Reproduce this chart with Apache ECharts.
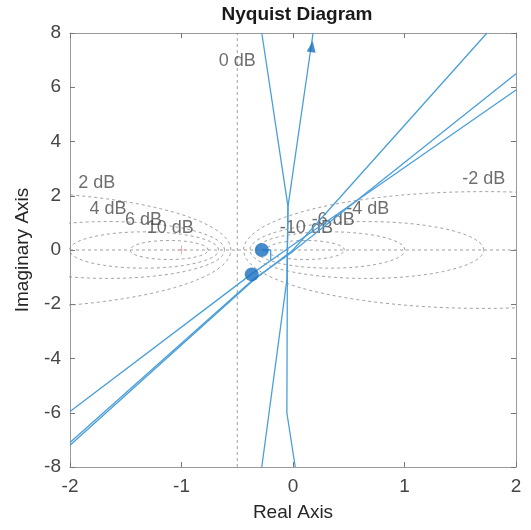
<!DOCTYPE html>
<html>
<head>
<meta charset="utf-8">
<script src="https://cdn.jsdelivr.net/npm/echarts@6/dist/echarts.min.js"></script>
<style>
  html, body { margin: 0; padding: 0; background: #fff; }
  #chart { width: 531px; height: 530px; }
</style>
</head>
<body>
<div id="chart"></div>
<script>
// nyquist branches (real, imag)
const branchA = [[-0.28, 8], [-0.045, 1.6], [-0.05, 0], [-0.055, -6.0], [0.02, -8]]
const branchB = [[-0.28, -8], [-0.055, -1.1], [-0.045, 1.6], [0.18, 8]]
const branchP = [[-2, -5.95], [-0.37, -0.88], [-0.03, 0.1], [2, 5.9]]
const branchQ = [[-2, -7.1], [-0.36, -1.1], [0, -0.05], [2, 6.5]]
const branchR = [[-2, -7.2], [-0.36, -1.13], [0, 0], [1.74, 8]]
const hook = [[-0.28, 0], [-0.2, 0], [-0.2, -0.39]]
const dots = [[-0.28, 0], [-0.37, -0.9]]
const arrowAt = [0.17, 7.5]
const critical = [-1, 0]

// M-circle grid levels (dB) and where their labels sit
const mLevels = [2, 4, 6, 10, -2, -4, -6, -10]
const mLabels = ['0 dB', '2 dB', '4 dB', '6 dB', '10 dB', '-2 dB', '-4 dB', '-6 dB', '-10 dB']
const mLabelPos = [[-0.5, 6.95], [-1.76, 2.47], [-1.66, 1.5], [-1.34, 1.1], [-1.1, 0.8],
  [1.71, 2.6], [0.67, 1.5], [0.36, 1.1], [0.12, 0.8]]

const xTicks = [-2, 2, 1]
const yTicks = [-8, 8, 2]

const gridColor = '#888888'
const lineColor = '#4a9fda'

function mCircle(db) {
  const m = Math.pow(10, db / 20)
  const m2 = m * m
  const c = -m2 / (m2 - 1)
  const r = Math.abs(m / (m2 - 1))
  const pts = []
  for (let i = 0; i <= 360; i++) {
    const t = i * Math.PI / 180
    pts.push([c + r * Math.cos(t), r * Math.sin(t)])
  }
  return pts
}

const gridStyle = { color: gridColor, width: 0.8, type: [3, 3] }
const series = []
mLevels.forEach(db => {
  series.push({
    type: 'line', data: mCircle(db), showSymbol: false, silent: true, clip: true,
    lineStyle: gridStyle, z: 1
  })
})
series.push({ type: 'line', data: [[-2, 0], [2, 0]], showSymbol: false, silent: true, lineStyle: gridStyle, z: 1 })
series.push({ type: 'line', data: [[-0.5, -8], [-0.5, 8]], showSymbol: false, silent: true, lineStyle: gridStyle, z: 1 })
series.push({
  type: 'scatter', data: mLabelPos.map((p, i) => ({ value: p, name: mLabels[i] })),
  symbolSize: 0, silent: true, z: 3,
  label: { show: true, position: 'inside', formatter: '{b}', color: '#4a4a4a', fontSize: 18, fontFamily: 'Liberation Sans' }
})

;[branchA, branchB, branchP, branchQ, branchR, hook].forEach(d => {
  series.push({
    type: 'line', data: d, showSymbol: false, clip: true, z: 4,
    lineStyle: { color: lineColor, width: 1.3 }
  })
})
series.push({
  type: 'scatter', data: dots, symbol: 'circle', symbolSize: 14, z: 5,
  itemStyle: { color: '#186fc0' }
})
series.push({
  type: 'scatter', data: [arrowAt], symbol: 'triangle', symbolSize: [9, 11], symbolRotate: -8, z: 5,
  itemStyle: { color: '#186fc0' }
})
series.push({
  type: 'scatter', data: [critical], z: 5,
  symbol: 'path://M4.6,0h0.8v4.6h4.6v0.8h-4.6v4.6h-0.8v-4.6h-4.6v-0.8h4.6z', symbolSize: 9,
  itemStyle: { color: '#e57373' }
})

const axisCommon = {
  axisLine: { show: true, onZero: false, lineStyle: { color: '#9a9a9a', width: 1 } },
  axisTick: { show: true, inside: true, length: 5, lineStyle: { color: '#777' } },
  splitLine: { show: false }
}

const chart = echarts.init(document.getElementById('chart'), null, { renderer: 'canvas' })
chart.setOption({
  animation: false,
  backgroundColor: '#fff',
  title: {
    text: 'Nyquist Diagram', left: 292, top: 0, textAlign: 'center',
    textStyle: { fontSize: 19, fontWeight: 'bold', color: '#1a1a1a', fontFamily: 'Liberation Sans' }
  },
  grid: { left: 70, right: 15, top: 33, bottom: 63 },
  xAxis: [
    Object.assign({
      type: 'value', min: xTicks[0], max: xTicks[1], interval: xTicks[2], position: 'bottom',
      name: 'Real Axis', nameLocation: 'middle', nameGap: 36,
      nameTextStyle: { fontSize: 19, color: '#262626', fontFamily: 'Liberation Sans' },
      axisLabel: { fontSize: 19, color: '#454545', margin: 10, fontFamily: 'Liberation Sans' }
    }, axisCommon),
    Object.assign({
      type: 'value', min: xTicks[0], max: xTicks[1], interval: xTicks[2], position: 'top',
      axisLabel: { show: false }
    }, axisCommon)
  ],
  yAxis: [
    Object.assign({
      type: 'value', min: yTicks[0], max: yTicks[1], interval: yTicks[2], position: 'left',
      name: 'Imaginary Axis', nameLocation: 'middle', nameGap: 38, nameRotate: 90,
      nameTextStyle: { fontSize: 19, color: '#262626', fontFamily: 'Liberation Sans' },
      axisLabel: { fontSize: 19, color: '#454545', margin: 9, fontFamily: 'Liberation Sans' }
    }, axisCommon),
    Object.assign({
      type: 'value', min: yTicks[0], max: yTicks[1], interval: yTicks[2], position: 'right',
      axisLabel: { show: false }
    }, axisCommon)
  ],
  series: series
})
</script>
</body>
</html>
